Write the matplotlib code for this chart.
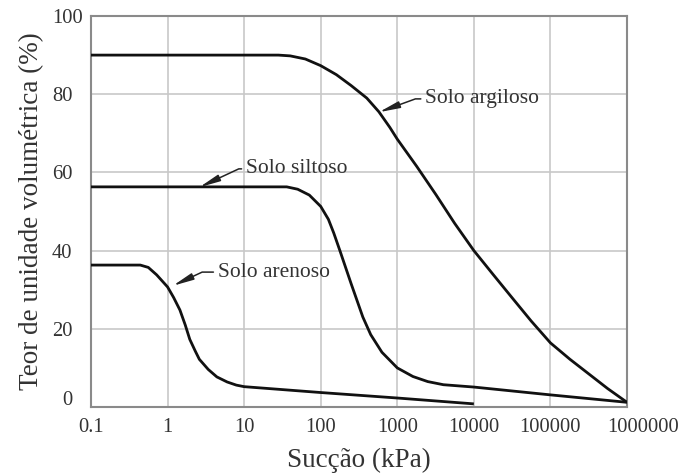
import matplotlib
matplotlib.use('Agg')
import matplotlib.pyplot as plt
from matplotlib.transforms import ScaledTranslation

# Curvas de retenção de água
argiloso_x = [0.1, 28, 40, 63, 100, 160, 250, 400, 575, 800, 1000, 1800,
              3200, 5600, 10000, 18000, 32000, 56000, 100000, 180000, 320000,
              560000, 1000000]
argiloso_y = [90, 90, 89.8, 89.0, 87.3, 85, 82.2, 79, 75.5, 71.5, 68.5, 61.5,
              54.3, 47, 40, 33.8, 27.8, 22, 16.4, 12.2, 8.4, 4.7, 1.2]

siltoso_x = [0.1, 36, 50, 71, 100, 126, 148, 178, 250, 355, 450, 630, 1000,
             1600, 2500, 4000, 10000, 100000, 1000000]
siltoso_y = [56.3, 56.3, 55.7, 54.2, 51.3, 48, 44.5, 40, 31.5, 23, 18.5, 14,
             10, 7.8, 6.5, 5.7, 5.1, 3.1, 1.2]

arenoso_x = [0.1, 0.44, 0.56, 0.72, 1, 1.2, 1.45, 1.7, 1.95, 2.3, 2.6, 3.4,
             4.4, 6, 7.9, 10, 100, 1000, 10000]
arenoso_y = [36.3, 36.3, 35.7, 33.8, 30.7, 28, 24.8, 21, 17.3, 14.3, 12.2,
             9.6, 7.7, 6.4, 5.6, 5.2, 3.7, 2.3, 0.8]

xticks = [0.1, 1, 10, 100, 1000, 10000, 100000, 1000000]
xlabels = ['0.1', '1', '10', '100', '1000', '10000', '100000', '1000000']
yticks = [0, 20, 40, 60, 80, 100]

# (texto, ponta da seta, posição do texto, ângulo da seta)
labels = [
    ('Solo argiloso', (575, 75.4), (2300, 78.8), 20),
    ('Solo siltoso', (2.6, 56.2), (10.5, 60.9), 25),
    ('Solo arenoso', (1.17, 31), (4.5, 34.5), 25),
]

plt.rcParams['font.family'] = ['Liberation Serif', 'DejaVu Serif']

fig = plt.figure(figsize=(6.86, 4.74), dpi=100)
ax = fig.add_axes([91/686, 1-407/474, 536/686, 391/474])

for xs, ys in [(argiloso_x, argiloso_y), (siltoso_x, siltoso_y),
               (arenoso_x, arenoso_y)]:
    ax.plot(xs, ys, color='#111111', lw=2.0, solid_joinstyle='round',
            solid_capstyle='butt', zorder=3)

ax.set_xscale('log')
ax.set_xlim(0.1, 1000000)
ax.set_ylim(0, 100)
ax.set_xticks(xticks)
ax.set_xticklabels(xlabels)
ax.minorticks_off()
ax.set_yticks(yticks)
ax.tick_params(length=0, labelsize=14.8, colors='#333333', pad=8)
ax.tick_params(axis='y', pad=28)
ax.grid(True, color='#c8c8c8', lw=1.2)
for s in ax.spines.values():
    s.set_color('#8a8a8a')
    s.set_linewidth(1.5)

for lab in ax.get_yticklabels():
    lab.set_horizontalalignment('left')

# o rótulo "0" fica um pouco acima da linha e mais à direita
lab0 = ax.get_yticklabels()[0]
lab0.set_transform(lab0.get_transform() +
                   ScaledTranslation(10/100, 9/100, fig.dpi_scale_trans))
# "1000000" deslocado para a direita como no original
labx = ax.get_xticklabels()[-1]
labx.set_transform(labx.get_transform() +
                   ScaledTranslation(16/100, 0, fig.dpi_scale_trans))

ax.set_xlabel('Sucção (kPa)', fontsize=19.5, color='#333333', labelpad=8)
ax.set_ylabel('Teor de unidade volumétrica (%)', fontsize=19.5,
              color='#333333', labelpad=6)

for txt, tip, pos, ang in labels:
    ax.annotate(txt, xy=tip, xytext=pos, fontsize=15.5, color='#333333',
                va='center', ha='left',
                arrowprops=dict(arrowstyle='-|>,head_length=0.8,head_width=0.13',
                                connectionstyle='angle,angleA=180,angleB=%d,rad=0' % ang,
                                color='#222222', lw=1.1, shrinkA=1, shrinkB=0))

fig.savefig('out.png', dpi=100)
